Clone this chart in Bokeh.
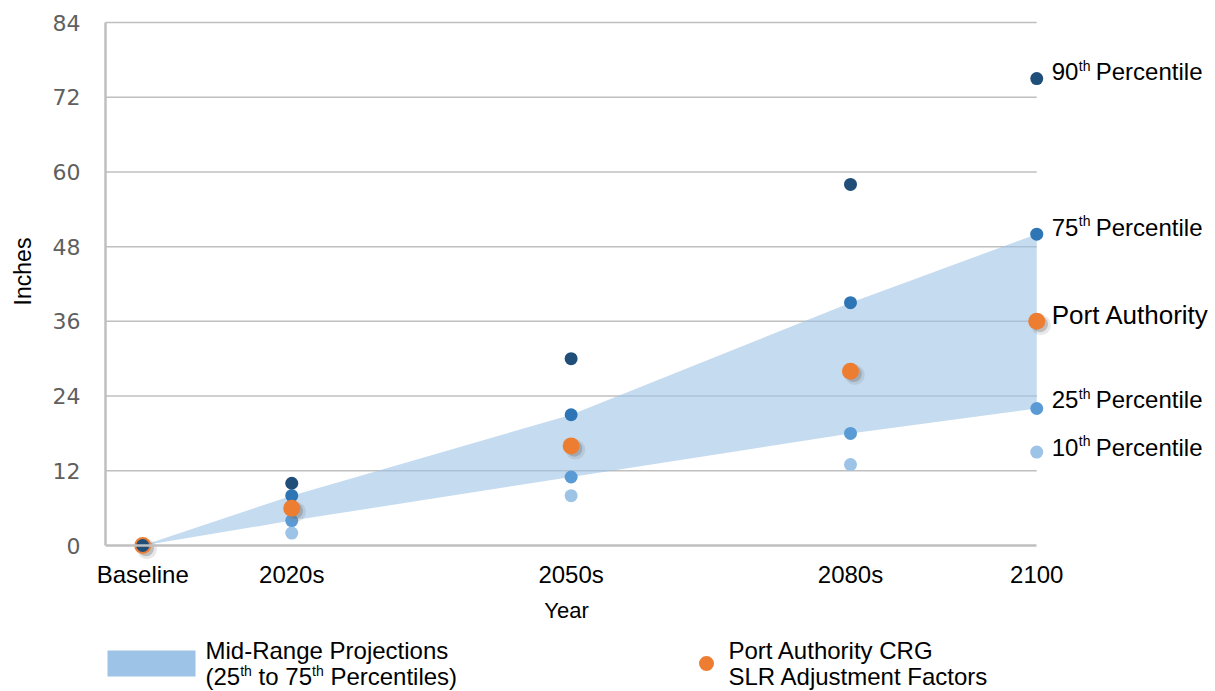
import math
from bokeh.plotting import figure
from bokeh.models import ColumnDataSource, FixedTicker, Range1d
from bokeh.transform import dodge
from bokeh.core.properties import value
from bokeh.embed import file_html
from bokeh.resources import INLINE

# ---------------- data ----------------
periods = ["Baseline", "2020s", "2050s", "2080s", "2100"]
period_years = [2004, 2020, 2050, 2080, 2100]
pct10 = [0, 2, 8, 13, 15]
pct25 = [0, 4, 11, 18, 22]
pct75 = [0, 8, 21, 39, 50]
pct90 = [0, 10, 30, 58, 75]
port_authority = [0, 6, 16, 28, 36]
y_ticks = [0, 12, 24, 36, 48, 60, 72, 84]

# ---------------- style ----------------
FONT = "Liberation Sans"
C90, C75, C25, C10 = "#1F4E79", "#2E75B6", "#5B9BD5", "#9DC3E6"
ORANGE = "#ED7D31"
BAND = "#9DC3E6"
GRID = "#BFBFBF"

# layout in picture pixels
W, H = 1214, 690
X_MIN = 2000
PX_PER_YEAR = 9.3125
Y_TOP = 84
PX_PER_INCH = 523 / 84


def px_x(page_x):
    return X_MIN + (page_x - 105) / PX_PER_YEAR


def px_y(page_y):
    return (545 - page_y) / PX_PER_INCH


src = ColumnDataSource(dict(x=period_years, p10=pct10, p25=pct25, p75=pct75,
                            p90=pct90, pa=port_authority))

p = figure(width=W, height=H, min_border=0,
           x_range=Range1d(px_x(0), px_x(W)), y_range=Range1d(px_y(H), px_y(0)),
           output_backend="svg", toolbar_location=None,
           outline_line_color=None, background_fill_color="white",
           border_fill_color="white")
p.grid.visible = False

# horizontal gridlines limited to the data area
p.segment(x0=X_MIN, y0=y_ticks[1:], x1=period_years[-1], y1=y_ticks[1:],
          line_color=GRID, line_width=1.5)

# x axis fixed at y=0
xa = p.xaxis[0]
xa.fixed_location = 0
xa.ticker = FixedTicker(ticks=period_years)
xa.major_label_overrides = {yr: lab for yr, lab in zip(period_years, periods)}
xa.bounds = (X_MIN, period_years[-1])
xa.axis_line_color = GRID
xa.axis_line_width = 2.5
xa.major_tick_in = 0
xa.major_tick_out = 0
xa.minor_tick_in = 0
xa.minor_tick_out = 0
xa.major_label_standoff = 15
xa.major_label_text_font = FONT
xa.major_label_text_font_size = "24px"
xa.major_label_text_color = "black"

# y axis fixed at the first year of the range
ya = p.yaxis[0]
ya.fixed_location = X_MIN
ya.ticker = FixedTicker(ticks=y_ticks)
ya.bounds = (0, Y_TOP)
ya.axis_line_color = GRID
ya.axis_line_width = 2.5
ya.major_tick_in = 0
ya.major_tick_out = 0
ya.minor_tick_in = 0
ya.minor_tick_out = 0
ya.major_label_standoff = 25
ya.major_label_text_font = "DejaVu Sans"
ya.major_label_text_font_size = "22px"
ya.major_label_text_color = "#5F5F5F"

# y axis title
p.text(x=[px_x(22)], y=[px_y(271)], text=["Inches"], angle=math.pi / 2,
       text_font=value(FONT), text_font_size="23px", text_align="center",
       text_baseline="middle", text_color="black")

# mid-range band
p.varea(x="x", y1="p25", y2="p75", source=src, fill_color=BAND, fill_alpha=0.6)

# percentile dots
p.scatter("x", "p10", source=src, size=13, fill_color=C10, line_color=None)
p.scatter("x", "p25", source=src, size=13, fill_color=C25, line_color=None)
p.scatter("x", "p75", source=src, size=13, fill_color=C75, line_color=None)
# Port Authority with a soft shadow
p.scatter(dodge("x", 0.45), dodge("pa", -0.6), source=src, size=20,
          fill_color="#7F7F7F", fill_alpha=0.18, line_color=None)
p.scatter(dodge("x", 0.35), dodge("pa", -0.45), source=src, size=16,
          fill_color="#6F6F6F", fill_alpha=0.35, line_color=None)
p.scatter("x", "pa", source=src, size=17, fill_color=ORANGE, line_color=None)
p.scatter("x", "p90", source=src, size=13, fill_color=C90, line_color=None)

# right-hand labels
TXT = dict(text_font=value(FONT), text_color="black", text_baseline="middle",
           text_align="left")
last_x = period_years[-1]
pct_labels = [("90", pct90[-1], -7), ("75", pct75[-1], -7),
              ("25", pct25[-1], -9), ("10", pct10[-1], -5)]
for num, val, dy in pct_labels:
    p.text(x=[last_x], y=[val], text=[num], x_offset=15, y_offset=dy,
           text_font_size="24px", **TXT)
    p.text(x=[last_x], y=[val], text=["th"], x_offset=42, y_offset=dy - 6,
           text_font_size="14px", **TXT)
    p.text(x=[last_x], y=[val], text=["Percentile"], x_offset=59, y_offset=dy,
           text_font_size="24px", **TXT)
p.text(x=[last_x], y=[port_authority[-1]], text=["Port Authority"], x_offset=15,
       y_offset=-6, text_font_size="26px", **TXT)

# x axis title
p.text(x=[px_x(566)], y=[px_y(610)], text=["Year"], text_font=value(FONT),
       text_font_size="22px", text_align="center", text_baseline="middle",
       text_color="black")

# legend (drawn)
p.rect(x=[px_x(151)], y=[px_y(663)], width=88, height=26, width_units="screen",
       height_units="screen", fill_color=BAND, line_color=None)
lx, l1, l2 = px_x(205), px_y(650), px_y(676)
p.text(x=[lx], y=[l1], text=["Mid-Range Projections"], text_font_size="24px", **TXT)
line2 = [("(25", 0, False), ("th", 34.7, True), ("to 75", 53.1, False),
         ("th", 106.5, True), ("Percentiles)", 124.9, False)]
for t, off, sup in line2:
    p.text(x=[lx], y=[l2], text=[t], x_offset=off, y_offset=-6 if sup else 0,
           text_font_size="14px" if sup else "24px", **TXT)
p.scatter(x=[px_x(706)], y=[px_y(663)], size=15, fill_color=ORANGE, line_color=None)
rx = px_x(728)
p.text(x=[rx], y=[l1], text=["Port Authority CRG"], text_font_size="24px", **TXT)
p.text(x=[rx], y=[l2], text=["SLR Adjustment Factors"], text_font_size="24px", **TXT)

open("out.html", "w").write(file_html(p, INLINE))
